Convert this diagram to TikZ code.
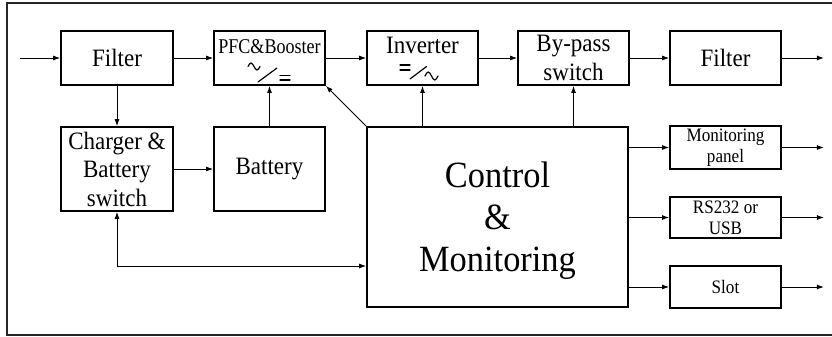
\documentclass[tikz,border=0pt]{standalone}
\usepackage{fontspec}
\setmainfont[FakeStretch=0.92]{Liberation Serif}
\newfontfamily\pfcfont[FakeStretch=0.86]{Liberation Serif}
\newfontfamily\smfont[FakeStretch=0.9]{Liberation Serif}
\newfontfamily\bigfont[FakeStretch=0.93]{Liberation Serif}
\usetikzlibrary{arrows.meta,calc}
\begin{document}
\begin{tikzpicture}[x=1pt,y=-1pt,
  >={Latex[length=7pt,width=5pt]},
  blk/.style={draw, line width=1.8pt, inner sep=0pt, align=center, font=\fontsize{25}{28.5}\selectfont},
  sblk/.style={blk, font=\smfont\fontsize{19}{21}\selectfont},
  conn/.style={line width=0.9pt, ->},
  sym/.style={line width=1.2pt, line cap=round}]
\useasboundingbox (0,0) rectangle (832,337);
\draw[line width=1.2pt, black!85] (832,3) -- (7,3) -- (7,335) -- (832,335);
% top row
\node[blk, minimum width=112pt, minimum height=54pt] (f1) at (117,58) {Filter};
\node[blk, minimum width=111pt, minimum height=54pt] (pfc) at (269.5,58) {};
\node[font=\pfcfont\fontsize{21}{24}\selectfont, anchor=base, inner sep=0pt] (pfct) at (269.5,53) {PFC\&Booster};
\node[blk, minimum width=111pt, minimum height=54pt] (inv) at (422.5,58) {};
\node[font=\fontsize{25}{28}\selectfont, anchor=base, inner sep=0pt] (invt) at (422.5,53) {Inverter};
\node[blk, minimum width=111pt, minimum height=54pt] (byp) at (573.5,58) {By-pass\\switch};
\node[blk, minimum width=111pt, minimum height=54pt] (f2) at (725.5,58) {Filter};
% symbols
\begin{scope}[shift={(pfc.center)}]
  \draw[sym] (-21.5,8.5) sin (-18.5,5) cos (-15.5,8.5) sin (-12.5,12) cos (-9.5,8.5);
  \draw[sym] (-11.5,24) -- (7.5,10);
  \draw[sym] (10.5,17.5) -- (20.5,17.5) (10.5,22) -- (20.5,22);
\end{scope}
\begin{scope}[shift={(inv.center)}]
  \draw[sym] (-22.5,7) -- (-12.5,7) (-22.5,12) -- (-12.5,12);
  \draw[sym] (-12.5,21) -- (4,8.5);
  \draw[sym] (2.5,18) sin (5.75,14) cos (9,18) sin (12.25,22) cos (15.5,18);
\end{scope}
% second row
\node[blk, minimum width=112pt, minimum height=84pt] (ch) at (117,169) {Charger \&\\Battery\\switch};
\node[blk, minimum width=111pt, minimum height=84pt] (bat) at (269.5,169) {Battery};
\node[blk, minimum width=261pt, minimum height=180pt, font=\bigfont\fontsize{37}{42}\selectfont] (ctrl) at (497.5,217) {Control\\\&\\\raisebox{0pt}[\height][0pt]{Monitoring}};
\node[sblk, minimum width=111pt, minimum height=43pt] (mon) at (725.5,147.5) {Monitoring\\panel};
\node[sblk, minimum width=111pt, minimum height=41pt] (rs) at (725.5,217.5) {RS232 or\\USB};
\node[sblk, minimum width=111pt, minimum height=42pt] (slot) at (725.5,287) {Slot};
% connectors
\coordinate (in) at (20,58);
\draw[conn] (in) -- (f1.west);
\draw[conn] (f1.east) -- (pfc.west);
\draw[conn] (pfc.east) -- (inv.west);
\draw[conn] (inv.east) -- (byp.west);
\draw[conn] (byp.east) -- (f2.west);
\draw[conn] (f2.east) -- ++(42,0);
\draw[conn] (f1.south) -- (ch.north);
\draw[conn] (ch.east) -- (bat.west);
\draw[conn] (bat.north) -- (pfc.south);
\draw[conn] (ctrl.north west) -- (pfc.south east);
\draw[conn] (inv.south |- ctrl.north) -- (inv.south);
\draw[conn] (byp.south |- ctrl.north) -- (byp.south);
\draw[conn, <->] (ch.south) |- ([yshift=-49pt]ctrl.west);
\draw[conn] (ctrl.east |- mon.west) -- (mon.west);
\draw[conn] (ctrl.east |- rs.west) -- (rs.west);
\draw[conn] (ctrl.east |- slot.west) -- (slot.west);
\draw[conn] (mon.east) -- ++(42,0);
\draw[conn] (rs.east) -- ++(42,0);
\draw[conn] (slot.east) -- ++(42,0);
\end{tikzpicture}
\end{document}
